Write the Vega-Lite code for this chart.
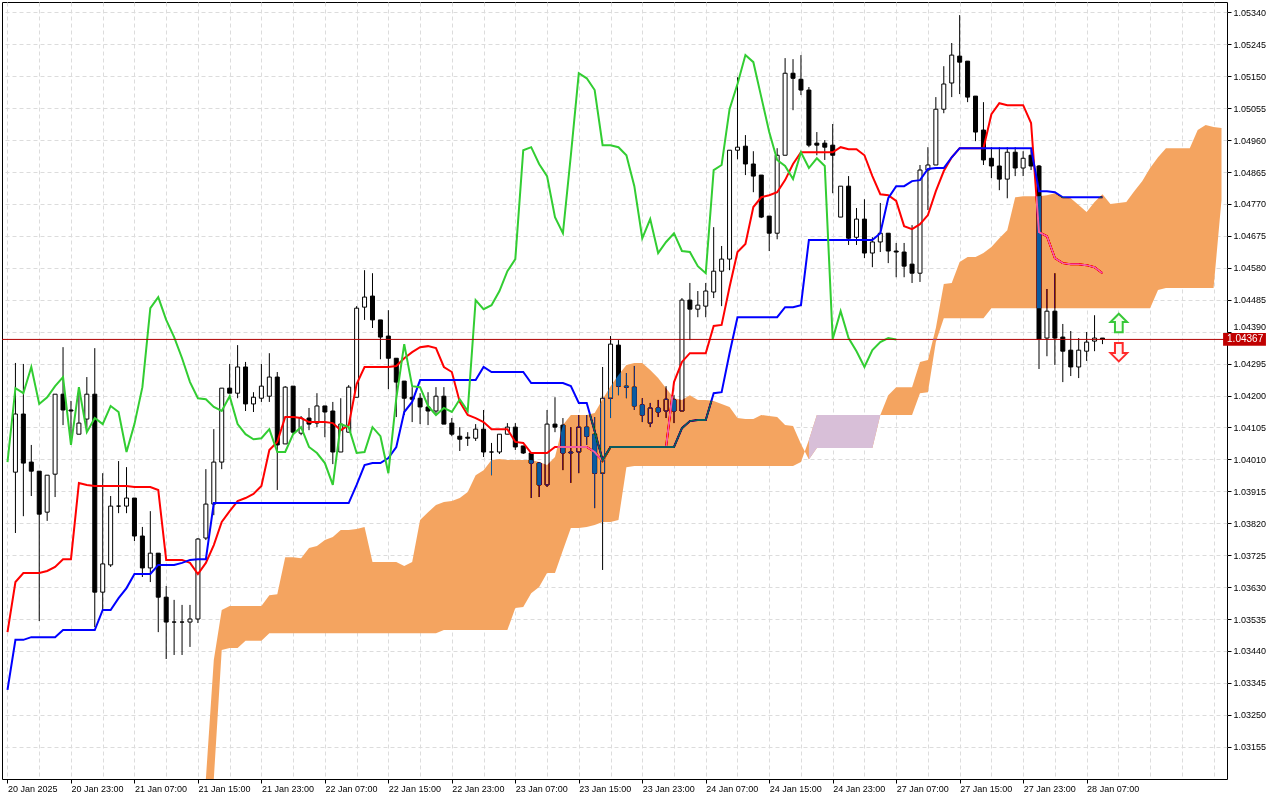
{
"$schema":"https://vega.github.io/schema/vega-lite/v6.json",
"width":1225,"height":777,
"autosize":{"type":"none"},
"padding":{"left":2,"top":2,"right":53,"bottom":21},
"background":"white",
"view":{"stroke":"black","strokeWidth":1,"fill":"white"},
"config":{"font":"Liberation Sans","axis":{"labelOverlap":false,"labelFlush":false,"labelBound":false,"title":null}},
"datasets":{
"candles":[
{"k":1,"o":1.03972,"h":1.04297,"l":1.03791,"c":1.04145},
{"k":2,"o":1.04145,"h":1.04294,"l":1.03841,"c":1.03999},
{"k":3,"o":1.04002,"h":1.04053,"l":1.03901,"c":1.03975},
{"k":4,"o":1.03975,"h":1.03975,"l":1.03529,"c":1.03847},
{"k":5,"o":1.03853,"h":1.03963,"l":1.03827,"c":1.03963},
{"k":6,"o":1.03966,"h":1.04204,"l":1.03898,"c":1.04204},
{"k":7,"o":1.04204,"h":1.04344,"l":1.04112,"c":1.04157},
{"k":8,"o":1.04157,"h":1.04184,"l":1.04059,"c":1.04154},
{"k":9,"o":1.04085,"h":1.04225,"l":1.04085,"c":1.04118},
{"k":10,"o":1.0413,"h":1.04255,"l":1.04097,"c":1.04204},
{"k":11,"o":1.04204,"h":1.04341,"l":1.03511,"c":1.03615},
{"k":12,"o":1.03615,"h":1.03969,"l":1.03562,"c":1.03699},
{"k":13,"o":1.03696,"h":1.03901,"l":1.0369,"c":1.03871},
{"k":14,"o":1.03871,"h":1.04005,"l":1.0385,"c":1.03871},
{"k":15,"o":1.03871,"h":1.03987,"l":1.0385,"c":1.03895},
{"k":16,"o":1.03895,"h":1.03895,"l":1.03767,"c":1.03782},
{"k":17,"o":1.03782,"h":1.03809,"l":1.0366,"c":1.03687},
{"k":18,"o":1.03687,"h":1.03856,"l":1.03645,"c":1.03731},
{"k":19,"o":1.03731,"h":1.03731,"l":1.03496,"c":1.036},
{"k":20,"o":1.036,"h":1.03633,"l":1.03416,"c":1.03526},
{"k":21,"o":1.03526,"h":1.03592,"l":1.03428,"c":1.03526},
{"k":22,"o":1.03526,"h":1.03577,"l":1.03428,"c":1.03526},
{"k":23,"o":1.03526,"h":1.03577,"l":1.03452,"c":1.03535},
{"k":24,"o":1.03535,"h":1.03776,"l":1.03523,"c":1.03773},
{"k":25,"o":1.03776,"h":1.03981,"l":1.0377,"c":1.03877},
{"k":26,"o":1.03877,"h":1.041,"l":1.03844,"c":1.04002},
{"k":27,"o":1.04002,"h":1.04222,"l":1.03981,"c":1.04222},
{"k":28,"o":1.04222,"h":1.04294,"l":1.04207,"c":1.04207},
{"k":29,"o":1.04207,"h":1.0435,"l":1.04192,"c":1.04285},
{"k":30,"o":1.04285,"h":1.043,"l":1.04154,"c":1.04175},
{"k":31,"o":1.04175,"h":1.0421,"l":1.04151,"c":1.04195},
{"k":32,"o":1.04192,"h":1.04294,"l":1.04181,"c":1.04228},
{"k":33,"o":1.04198,"h":1.04326,"l":1.04181,"c":1.04255},
{"k":34,"o":1.04255,"h":1.0427,"l":1.03919,"c":1.04053},
{"k":35,"o":1.04056,"h":1.04228,"l":1.04056,"c":1.04225},
{"k":36,"o":1.04228,"h":1.04228,"l":1.04082,"c":1.04091},
{"k":37,"o":1.04088,"h":1.04139,"l":1.04082,"c":1.04133},
{"k":38,"o":1.04133,"h":1.04163,"l":1.04097,"c":1.04115},
{"k":39,"o":1.04118,"h":1.04207,"l":1.04106,"c":1.04169},
{"k":40,"o":1.04169,"h":1.04169,"l":1.04076,"c":1.04151},
{"k":41,"o":1.04154,"h":1.04181,"l":1.03996,"c":1.04032},
{"k":42,"o":1.04032,"h":1.04192,"l":1.04032,"c":1.04115},
{"k":43,"o":1.04091,"h":1.04231,"l":1.04091,"c":1.04225},
{"k":44,"o":1.04195,"h":1.04466,"l":1.04195,"c":1.0446},
{"k":45,"o":1.04463,"h":1.04573,"l":1.04425,"c":1.04493},
{"k":46,"o":1.04496,"h":1.04564,"l":1.04401,"c":1.04425},
{"k":47,"o":1.04425,"h":1.04425,"l":1.04308,"c":1.04374},
{"k":48,"o":1.04377,"h":1.04454,"l":1.04219,"c":1.04311},
{"k":49,"o":1.04311,"h":1.04311,"l":1.04136,"c":1.0424},
{"k":50,"o":1.04243,"h":1.04243,"l":1.04142,"c":1.04192},
{"k":51,"o":1.04195,"h":1.04225,"l":1.04121,"c":1.04189},
{"k":52,"o":1.04192,"h":1.04207,"l":1.04115,"c":1.04166},
{"k":53,"o":1.04166,"h":1.0421,"l":1.04112,"c":1.04154},
{"k":54,"o":1.04154,"h":1.04225,"l":1.04142,"c":1.04198},
{"k":55,"o":1.04198,"h":1.04225,"l":1.04115,"c":1.04115},
{"k":56,"o":1.04118,"h":1.04133,"l":1.04079,"c":1.04085},
{"k":57,"o":1.04079,"h":1.04106,"l":1.04035,"c":1.0407},
{"k":58,"o":1.04076,"h":1.04091,"l":1.0405,"c":1.04073},
{"k":59,"o":1.04073,"h":1.04115,"l":1.04065,"c":1.041},
{"k":60,"o":1.041,"h":1.04157,"l":1.04017,"c":1.04032},
{"k":61,"o":1.04032,"h":1.04059,"l":1.03963,"c":1.04032},
{"k":62,"o":1.04032,"h":1.04085,"l":1.04026,"c":1.04085},
{"k":63,"o":1.04085,"h":1.04118,"l":1.04085,"c":1.04106},
{"k":64,"o":1.04106,"h":1.04118,"l":1.04038,"c":1.04047},
{"k":65,"o":1.0405,"h":1.0405,"l":1.04026,"c":1.04029},
{"k":66,"o":1.04029,"h":1.04029,"l":1.03895,"c":1.03999},
{"k":67,"o":1.03999,"h":1.04002,"l":1.03898,"c":1.03934},
{"k":68,"o":1.03934,"h":1.04157,"l":1.03928,"c":1.04115},
{"k":69,"o":1.04115,"h":1.04195,"l":1.04091,"c":1.04106},
{"k":70,"o":1.04112,"h":1.04133,"l":1.03978,"c":1.04029},
{"k":71,"o":1.04029,"h":1.04106,"l":1.0394,"c":1.04032},
{"k":72,"o":1.04032,"h":1.04142,"l":1.03969,"c":1.04106},
{"k":73,"o":1.04106,"h":1.04142,"l":1.04053,"c":1.04079},
{"k":74,"o":1.04085,"h":1.04136,"l":1.03865,"c":1.03969},
{"k":75,"o":1.03969,"h":1.04285,"l":1.03681,"c":1.04192},
{"k":76,"o":1.04192,"h":1.04377,"l":1.04133,"c":1.04353},
{"k":77,"o":1.0435,"h":1.04365,"l":1.04201,"c":1.04228},
{"k":78,"o":1.04228,"h":1.04267,"l":1.04192,"c":1.04225},
{"k":79,"o":1.04225,"h":1.04288,"l":1.04157,"c":1.04169},
{"k":80,"o":1.04172,"h":1.04192,"l":1.04121,"c":1.04142},
{"k":81,"o":1.04118,"h":1.04178,"l":1.04106,"c":1.04163},
{"k":82,"o":1.04163,"h":1.04187,"l":1.04136,"c":1.04151},
{"k":83,"o":1.04154,"h":1.04228,"l":1.04133,"c":1.04189},
{"k":84,"o":1.04187,"h":1.04201,"l":1.04118,"c":1.04154},
{"k":85,"o":1.04154,"h":1.0449,"l":1.04154,"c":1.04484},
{"k":86,"o":1.04484,"h":1.04535,"l":1.04365,"c":1.04457},
{"k":87,"o":1.04457,"h":1.04511,"l":1.04433,"c":1.04469},
{"k":88,"o":1.04466,"h":1.04535,"l":1.04433,"c":1.04511},
{"k":89,"o":1.04508,"h":1.04701,"l":1.0449,"c":1.0457},
{"k":90,"o":1.0457,"h":1.04645,"l":1.04466,"c":1.04606},
{"k":91,"o":1.04606,"h":1.0493,"l":1.04573,"c":1.0493},
{"k":92,"o":1.0493,"h":1.05147,"l":1.04903,"c":1.04939},
{"k":93,"o":1.04942,"h":1.04975,"l":1.04856,"c":1.04889},
{"k":94,"o":1.04889,"h":1.04927,"l":1.04805,"c":1.04853},
{"k":95,"o":1.04856,"h":1.04856,"l":1.04728,"c":1.04731},
{"k":96,"o":1.04734,"h":1.04734,"l":1.0463,"c":1.04683},
{"k":97,"o":1.04683,"h":1.04936,"l":1.04665,"c":1.04915},
{"k":98,"o":1.04915,"h":1.05204,"l":1.04915,"c":1.05159},
{"k":99,"o":1.05159,"h":1.05201,"l":1.05049,"c":1.05144},
{"k":100,"o":1.05141,"h":1.05213,"l":1.05094,"c":1.05109},
{"k":101,"o":1.05109,"h":1.05118,"l":1.04939,"c":1.04945},
{"k":102,"o":1.04951,"h":1.04984,"l":1.04915,"c":1.04945},
{"k":103,"o":1.04951,"h":1.0496,"l":1.04901,"c":1.04939},
{"k":104,"o":1.04945,"h":1.05008,"l":1.04802,"c":1.04915},
{"k":105,"o":1.04731,"h":1.04823,"l":1.04731,"c":1.04823},
{"k":106,"o":1.04823,"h":1.04853,"l":1.04648,"c":1.04668},
{"k":107,"o":1.04671,"h":1.04758,"l":1.04648,"c":1.04725},
{"k":108,"o":1.04725,"h":1.04784,"l":1.04609,"c":1.04624},
{"k":109,"o":1.04624,"h":1.04671,"l":1.04582,"c":1.04657},
{"k":110,"o":1.04657,"h":1.04773,"l":1.04627,"c":1.04683},
{"k":111,"o":1.04683,"h":1.04683,"l":1.04594,"c":1.0463},
{"k":112,"o":1.0463,"h":1.04654,"l":1.04552,"c":1.04627},
{"k":113,"o":1.04627,"h":1.04654,"l":1.04552,"c":1.04585},
{"k":114,"o":1.04591,"h":1.04707,"l":1.04535,"c":1.04564},
{"k":115,"o":1.04564,"h":1.04886,"l":1.04538,"c":1.04871},
{"k":116,"o":1.04871,"h":1.04939,"l":1.04752,"c":1.04886},
{"k":117,"o":1.04886,"h":1.05088,"l":1.04886,"c":1.05052},
{"k":118,"o":1.05052,"h":1.0518,"l":1.0504,"c":1.05127},
{"k":119,"o":1.0513,"h":1.05249,"l":1.05088,"c":1.05213},
{"k":120,"o":1.0521,"h":1.05332,"l":1.05097,"c":1.05192},
{"k":121,"o":1.05195,"h":1.05195,"l":1.05073,"c":1.05088},
{"k":122,"o":1.05091,"h":1.05091,"l":1.04957,"c":1.04984},
{"k":123,"o":1.0499,"h":1.05073,"l":1.04886,"c":1.04901},
{"k":124,"o":1.04906,"h":1.04939,"l":1.04847,"c":1.04883},
{"k":125,"o":1.04883,"h":1.04939,"l":1.04811,"c":1.04844},
{"k":126,"o":1.04844,"h":1.04939,"l":1.04787,"c":1.04924},
{"k":127,"o":1.04924,"h":1.04939,"l":1.04853,"c":1.04877},
{"k":128,"o":1.04877,"h":1.04927,"l":1.04853,"c":1.04906},
{"k":129,"o":1.04915,"h":1.0493,"l":1.04871,"c":1.04883},
{"k":130,"o":1.04883,"h":1.04886,"l":1.04279,"c":1.04368},
{"k":131,"o":1.04371,"h":1.04517,"l":1.04317,"c":1.04451},
{"k":132,"o":1.04451,"h":1.04564,"l":1.04291,"c":1.04371},
{"k":133,"o":1.04374,"h":1.04413,"l":1.0424,"c":1.04332},
{"k":134,"o":1.04335,"h":1.04392,"l":1.04258,"c":1.04285},
{"k":135,"o":1.04285,"h":1.04371,"l":1.04252,"c":1.04335},
{"k":136,"o":1.04332,"h":1.04389,"l":1.04303,"c":1.04359},
{"k":137,"o":1.04362,"h":1.04439,"l":1.04332,"c":1.04371},
{"k":138,"o":1.04371,"h":1.04371,"l":1.04353,"c":1.04367}
],
"lines":[
{"k":0,"t":1.03496,"kj":1.03324,"ch":1.04002},
{"k":1,"t":1.03645,"kj":1.03473,"ch":1.04222},
{"k":2,"t":1.03672,"kj":1.03473,"ch":1.04207},
{"k":3,"t":1.03672,"kj":1.03481,"ch":1.04285},
{"k":4,"t":1.03672,"kj":1.03481,"ch":1.04175},
{"k":5,"t":1.03678,"kj":1.03481,"ch":1.04195},
{"k":6,"t":1.0369,"kj":1.03481,"ch":1.04228},
{"k":7,"t":1.03713,"kj":1.03502,"ch":1.04255},
{"k":8,"t":1.03713,"kj":1.03502,"ch":1.04053},
{"k":9,"t":1.0394,"kj":1.03502,"ch":1.04225},
{"k":10,"t":1.03934,"kj":1.03502,"ch":1.04091},
{"k":11,"t":1.03931,"kj":1.03502,"ch":1.04133},
{"k":12,"t":1.03931,"kj":1.03562,"ch":1.04115},
{"k":13,"t":1.03931,"kj":1.03562,"ch":1.04169},
{"k":14,"t":1.03931,"kj":1.03597,"ch":1.04151},
{"k":15,"t":1.03931,"kj":1.03627,"ch":1.04032},
{"k":16,"t":1.03928,"kj":1.03669,"ch":1.04115},
{"k":17,"t":1.03928,"kj":1.03669,"ch":1.04225},
{"k":18,"t":1.03928,"kj":1.03669,"ch":1.0446},
{"k":19,"t":1.03919,"kj":1.03696,"ch":1.04493},
{"k":20,"t":1.03711,"kj":1.03696,"ch":1.04425},
{"k":21,"t":1.03711,"kj":1.03696,"ch":1.04374},
{"k":22,"t":1.03711,"kj":1.03702,"ch":1.04311},
{"k":23,"t":1.03702,"kj":1.03711,"ch":1.0424},
{"k":24,"t":1.03669,"kj":1.03713,"ch":1.04192},
{"k":25,"t":1.03702,"kj":1.03713,"ch":1.04189},
{"k":26,"t":1.03755,"kj":1.0388,"ch":1.04166},
{"k":27,"t":1.03824,"kj":1.0388,"ch":1.04154},
{"k":28,"t":1.03856,"kj":1.0388,"ch":1.04198},
{"k":29,"t":1.03886,"kj":1.0388,"ch":1.04115},
{"k":30,"t":1.03895,"kj":1.0388,"ch":1.04085},
{"k":31,"t":1.03907,"kj":1.0388,"ch":1.0407},
{"k":32,"t":1.03931,"kj":1.0388,"ch":1.04073},
{"k":33,"t":1.04038,"kj":1.0388,"ch":1.041},
{"k":34,"t":1.04062,"kj":1.0388,"ch":1.04032},
{"k":35,"t":1.04136,"kj":1.0388,"ch":1.04032},
{"k":36,"t":1.04136,"kj":1.0388,"ch":1.04085},
{"k":37,"t":1.04133,"kj":1.0388,"ch":1.04106},
{"k":38,"t":1.04121,"kj":1.0388,"ch":1.04047},
{"k":39,"t":1.04121,"kj":1.0388,"ch":1.04029},
{"k":40,"t":1.04121,"kj":1.0388,"ch":1.03999},
{"k":41,"t":1.04118,"kj":1.0388,"ch":1.03934},
{"k":42,"t":1.04097,"kj":1.0388,"ch":1.04115},
{"k":43,"t":1.04112,"kj":1.0388,"ch":1.04106},
{"k":44,"t":1.04234,"kj":1.03934,"ch":1.04029},
{"k":45,"t":1.04285,"kj":1.03993,"ch":1.04032},
{"k":46,"t":1.04285,"kj":1.03999,"ch":1.04106},
{"k":47,"t":1.04285,"kj":1.03999,"ch":1.04079},
{"k":48,"t":1.04285,"kj":1.04014,"ch":1.03969},
{"k":49,"t":1.04288,"kj":1.04047,"ch":1.04192},
{"k":50,"t":1.04311,"kj":1.04151,"ch":1.04353},
{"k":51,"t":1.04329,"kj":1.04181,"ch":1.04228},
{"k":52,"t":1.04344,"kj":1.04246,"ch":1.04225},
{"k":53,"t":1.04347,"kj":1.04246,"ch":1.04169},
{"k":54,"t":1.04341,"kj":1.04246,"ch":1.04142},
{"k":55,"t":1.04285,"kj":1.04246,"ch":1.04163},
{"k":56,"t":1.0427,"kj":1.04246,"ch":1.04151},
{"k":57,"t":1.04181,"kj":1.04246,"ch":1.04189},
{"k":58,"t":1.04142,"kj":1.04246,"ch":1.04154},
{"k":59,"t":1.04133,"kj":1.04246,"ch":1.04484},
{"k":60,"t":1.04121,"kj":1.04285,"ch":1.04457},
{"k":61,"t":1.041,"kj":1.0427,"ch":1.04469},
{"k":62,"t":1.041,"kj":1.0427,"ch":1.04511},
{"k":63,"t":1.041,"kj":1.0427,"ch":1.0457},
{"k":64,"t":1.04062,"kj":1.0427,"ch":1.04606},
{"k":65,"t":1.04059,"kj":1.0427,"ch":1.0493},
{"k":66,"t":1.04029,"kj":1.04237,"ch":1.04939},
{"k":67,"t":1.04029,"kj":1.04237,"ch":1.04889},
{"k":68,"t":1.04029,"kj":1.04237,"ch":1.04853},
{"k":69,"t":1.04047,"kj":1.04237,"ch":1.04731},
{"k":70,"t":1.04047,"kj":1.04237,"ch":1.04683},
{"k":71,"t":1.04047,"kj":1.04228,"ch":1.04915},
{"k":72,"t":1.04047,"kj":1.04178,"ch":1.05159},
{"k":73,"t":1.04047,"kj":1.04178,"ch":1.05144},
{"k":74,"t":1.04032,"kj":1.04094,"ch":1.05109},
{"k":75,"t":1.04005,"kj":1.04008,"ch":1.04945},
{"k":76,"t":1.04047,"kj":1.04047,"ch":1.04945},
{"k":77,"t":1.04047,"kj":1.04047,"ch":1.04939},
{"k":78,"t":1.04047,"kj":1.04047,"ch":1.04915},
{"k":79,"t":1.04047,"kj":1.04047,"ch":1.04823},
{"k":80,"t":1.04047,"kj":1.04047,"ch":1.04668},
{"k":81,"t":1.04047,"kj":1.04047,"ch":1.04725},
{"k":82,"t":1.04047,"kj":1.04047,"ch":1.04624},
{"k":83,"t":1.04047,"kj":1.04047,"ch":1.04657},
{"k":84,"t":1.0424,"kj":1.04047,"ch":1.04683},
{"k":85,"t":1.043,"kj":1.04103,"ch":1.0463},
{"k":86,"t":1.04326,"kj":1.04124,"ch":1.04627},
{"k":87,"t":1.04326,"kj":1.04127,"ch":1.04585},
{"k":88,"t":1.04326,"kj":1.04127,"ch":1.04564},
{"k":89,"t":1.04407,"kj":1.04207,"ch":1.04871},
{"k":90,"t":1.0441,"kj":1.0421,"ch":1.04886},
{"k":91,"t":1.04523,"kj":1.04326,"ch":1.05052},
{"k":92,"t":1.04627,"kj":1.04433,"ch":1.05127},
{"k":93,"t":1.04651,"kj":1.04433,"ch":1.05213},
{"k":94,"t":1.04761,"kj":1.04433,"ch":1.05192},
{"k":95,"t":1.0479,"kj":1.04433,"ch":1.05088},
{"k":96,"t":1.04796,"kj":1.04433,"ch":1.04984},
{"k":97,"t":1.04805,"kj":1.04433,"ch":1.04901},
{"k":98,"t":1.04841,"kj":1.04463,"ch":1.04883},
{"k":99,"t":1.04889,"kj":1.04463,"ch":1.04844},
{"k":100,"t":1.04924,"kj":1.04469,"ch":1.04924},
{"k":101,"t":1.04924,"kj":1.04663,"ch":1.04877},
{"k":102,"t":1.04924,"kj":1.04663,"ch":1.04906},
{"k":103,"t":1.04924,"kj":1.04663,"ch":1.04883},
{"k":104,"t":1.04924,"kj":1.04663,"ch":1.04368},
{"k":105,"t":1.04939,"kj":1.04663,"ch":1.04451},
{"k":106,"t":1.04933,"kj":1.04663,"ch":1.04371},
{"k":107,"t":1.04933,"kj":1.04663,"ch":1.04332},
{"k":108,"t":1.04915,"kj":1.04663,"ch":1.04285},
{"k":109,"t":1.04853,"kj":1.04663,"ch":1.04335},
{"k":110,"t":1.04799,"kj":1.04683,"ch":1.04359},
{"k":111,"t":1.04796,"kj":1.04787,"ch":1.04371},
{"k":112,"t":1.04779,"kj":1.04823,"ch":1.04367},
{"k":113,"t":1.04704,"kj":1.04823},
{"k":114,"t":1.04695,"kj":1.04838},
{"k":115,"t":1.0471,"kj":1.04841},
{"k":116,"t":1.04737,"kj":1.04874},
{"k":117,"t":1.04808,"kj":1.04877},
{"k":118,"t":1.04868,"kj":1.04877},
{"k":119,"t":1.04909,"kj":1.04909},
{"k":120,"t":1.04936,"kj":1.04936},
{"k":121,"t":1.04936,"kj":1.04936},
{"k":122,"t":1.04936,"kj":1.04936},
{"k":123,"t":1.04936,"kj":1.04936},
{"k":124,"t":1.05037,"kj":1.04936},
{"k":125,"t":1.0507,"kj":1.04936},
{"k":126,"t":1.05064,"kj":1.04936},
{"k":127,"t":1.05064,"kj":1.04936},
{"k":128,"t":1.05064,"kj":1.04936},
{"k":129,"t":1.05011,"kj":1.04936},
{"k":130,"t":1.04686,"kj":1.04808},
{"k":131,"t":1.04674,"kj":1.04808},
{"k":132,"t":1.04609,"kj":1.04805},
{"k":133,"t":1.04594,"kj":1.0479},
{"k":134,"t":1.04591,"kj":1.0479},
{"k":135,"t":1.04591,"kj":1.0479},
{"k":136,"t":1.04588,"kj":1.0479},
{"k":137,"t":1.04582,"kj":1.0479},
{"k":138,"t":1.04564,"kj":1.0479}
],
"cloud":[
{"k":25,"a":1.03026,"b":1.02907},
{"k":26,"a":1.03413,"b":1.03026},
{"k":27,"a":1.03562,"b":1.03443},
{"k":28,"a":1.03574,"b":1.03449},
{"k":29,"a":1.03574,"b":1.03449},
{"k":30,"a":1.03574,"b":1.0347},
{"k":31,"a":1.03574,"b":1.0347},
{"k":32,"a":1.03574,"b":1.0347},
{"k":33,"a":1.03606,"b":1.03493},
{"k":34,"a":1.03609,"b":1.03493},
{"k":35,"a":1.03719,"b":1.03493},
{"k":36,"a":1.03719,"b":1.03493},
{"k":37,"a":1.03716,"b":1.03493},
{"k":38,"a":1.03746,"b":1.03493},
{"k":39,"a":1.03752,"b":1.03493},
{"k":40,"a":1.0377,"b":1.03493},
{"k":41,"a":1.03779,"b":1.03493},
{"k":42,"a":1.038,"b":1.03493},
{"k":43,"a":1.038,"b":1.03493},
{"k":44,"a":1.03803,"b":1.03493},
{"k":45,"a":1.03809,"b":1.03493},
{"k":46,"a":1.03705,"b":1.03493},
{"k":47,"a":1.03705,"b":1.03493},
{"k":48,"a":1.03705,"b":1.03493},
{"k":49,"a":1.03705,"b":1.03493},
{"k":50,"a":1.03693,"b":1.03493},
{"k":51,"a":1.03705,"b":1.03493},
{"k":52,"a":1.0383,"b":1.03493},
{"k":53,"a":1.03853,"b":1.03493},
{"k":54,"a":1.03874,"b":1.03493},
{"k":55,"a":1.03883,"b":1.03502},
{"k":56,"a":1.03886,"b":1.03502},
{"k":57,"a":1.03895,"b":1.03502},
{"k":58,"a":1.03913,"b":1.03502},
{"k":59,"a":1.03963,"b":1.03502},
{"k":60,"a":1.03978,"b":1.03502},
{"k":61,"a":1.04008,"b":1.03502},
{"k":62,"a":1.04011,"b":1.03502},
{"k":63,"a":1.04008,"b":1.03502},
{"k":64,"a":1.04008,"b":1.03568},
{"k":65,"a":1.04008,"b":1.03571},
{"k":66,"a":1.04008,"b":1.03612},
{"k":67,"a":1.04002,"b":1.0363},
{"k":68,"a":1.03993,"b":1.03672},
{"k":69,"a":1.04017,"b":1.03672},
{"k":70,"a":1.04112,"b":1.0374},
{"k":71,"a":1.04142,"b":1.03806},
{"k":72,"a":1.04142,"b":1.03806},
{"k":73,"a":1.04142,"b":1.03809},
{"k":74,"a":1.04148,"b":1.03815},
{"k":75,"a":1.04189,"b":1.03824},
{"k":76,"a":1.04228,"b":1.03824},
{"k":77,"a":1.04261,"b":1.0383},
{"k":78,"a":1.04291,"b":1.03987},
{"k":79,"a":1.04297,"b":1.0399},
{"k":80,"a":1.04297,"b":1.0399},
{"k":81,"a":1.04276,"b":1.0399},
{"k":82,"a":1.04252,"b":1.0399},
{"k":83,"a":1.04222,"b":1.0399},
{"k":84,"a":1.04192,"b":1.0399},
{"k":85,"a":1.04187,"b":1.0399},
{"k":86,"a":1.04201,"b":1.0399},
{"k":87,"a":1.04187,"b":1.0399},
{"k":88,"a":1.04187,"b":1.0399},
{"k":89,"a":1.04184,"b":1.0399},
{"k":90,"a":1.04175,"b":1.0399},
{"k":91,"a":1.04166,"b":1.0399},
{"k":92,"a":1.04133,"b":1.0399},
{"k":93,"a":1.0413,"b":1.0399},
{"k":94,"a":1.0413,"b":1.0399},
{"k":95,"a":1.04142,"b":1.0399},
{"k":96,"a":1.04139,"b":1.0399},
{"k":97,"a":1.04136,"b":1.0399},
{"k":98,"a":1.04112,"b":1.0399},
{"k":99,"a":1.04109,"b":1.0399},
{"k":100,"a":1.04056,"b":1.04002},
{"k":101,"a":1.0401,"b":1.04068},
{"k":102,"a":1.04044,"b":1.04142},
{"k":103,"a":1.04044,"b":1.04142},
{"k":104,"a":1.04044,"b":1.04142},
{"k":105,"a":1.04044,"b":1.04142},
{"k":106,"a":1.04044,"b":1.04142},
{"k":107,"a":1.04044,"b":1.04142},
{"k":108,"a":1.04044,"b":1.04142},
{"k":109,"a":1.04044,"b":1.04142},
{"k":110,"a":1.04142,"b":1.04142},
{"k":111,"a":1.04201,"b":1.04142},
{"k":112,"a":1.04225,"b":1.04142},
{"k":113,"a":1.04225,"b":1.04142},
{"k":114,"a":1.04225,"b":1.04142},
{"k":115,"a":1.043,"b":1.04207},
{"k":116,"a":1.04306,"b":1.0421},
{"k":117,"a":1.04401,"b":1.04359},
{"k":118,"a":1.04532,"b":1.0443},
{"k":119,"a":1.04535,"b":1.0443},
{"k":120,"a":1.04597,"b":1.0443},
{"k":121,"a":1.04612,"b":1.0443},
{"k":122,"a":1.04612,"b":1.0443},
{"k":123,"a":1.04624,"b":1.0443},
{"k":124,"a":1.04642,"b":1.0446},
{"k":125,"a":1.04668,"b":1.0446},
{"k":126,"a":1.04692,"b":1.0446},
{"k":127,"a":1.0479,"b":1.0446},
{"k":128,"a":1.04793,"b":1.0446},
{"k":129,"a":1.04793,"b":1.0446},
{"k":130,"a":1.04793,"b":1.0446},
{"k":131,"a":1.04796,"b":1.0446},
{"k":132,"a":1.04802,"b":1.0446},
{"k":133,"a":1.0479,"b":1.0446},
{"k":134,"a":1.04787,"b":1.0446},
{"k":135,"a":1.04767,"b":1.0446},
{"k":136,"a":1.04746,"b":1.0446},
{"k":137,"a":1.04776,"b":1.0446},
{"k":138,"a":1.04799,"b":1.0446},
{"k":139,"a":1.0477,"b":1.0446},
{"k":140,"a":1.04773,"b":1.0446},
{"k":141,"a":1.04776,"b":1.0446},
{"k":142,"a":1.04808,"b":1.0446},
{"k":143,"a":1.04838,"b":1.0446},
{"k":144,"a":1.04877,"b":1.0446},
{"k":145,"a":1.04909,"b":1.04514},
{"k":146,"a":1.04936,"b":1.0452},
{"k":147,"a":1.04936,"b":1.0452},
{"k":148,"a":1.04936,"b":1.0452},
{"k":149,"a":1.04936,"b":1.0452},
{"k":150,"a":1.0499,"b":1.0452},
{"k":151,"a":1.05005,"b":1.0452},
{"k":152,"a":1.04999,"b":1.0452},
{"k":153,"a":1.04996,"b":1.04782}
],
"price":[{"p":1.04367}],
"signals":[{"k":140.06,"p":1.04416,"dir":"buy"},{"k":140.06,"p":1.04329,"dir":"sell"}]
},
"layer":[
{"data":{"name":"cloud"},"mark":{"type":"area","color":"white"},
 "encoding":{
  "x":{"field":"k","type":"quantitative","scale":{"type":"linear","domain":[-0.0625,153.0625],"nice":false,"zero":false},
   "axis":{"title":null,"tickCount":500,"values":[0,4,8,12,16,20,24,28,32,36,40,44,48,52,56,60,64,68,72,76,80,84,88,92,96,100,104,108,112,116,120,124,128,132,136,140,144,148,152],
    "grid":true,"gridColor":"#dcdcdc","gridDash":[4,3],"gridWidth":1,"domain":false,"ticks":true,"tickSize":4,"tickColor":"black",
    "tickOpacity":{"condition":{"test":"datum.value % 8 === 0 && datum.value <= 136","value":1},"value":0},
    "labelExpr":"(datum.value % 8 === 0 && datum.value <= 136) ? ['20 Jan 2025','20 Jan 23:00','21 Jan 07:00','21 Jan 15:00','21 Jan 23:00','22 Jan 07:00','22 Jan 15:00','22 Jan 23:00','23 Jan 07:00','23 Jan 15:00','23 Jan 23:00','24 Jan 07:00','24 Jan 15:00','24 Jan 23:00','27 Jan 07:00','27 Jan 15:00','27 Jan 23:00','28 Jan 07:00'][datum.value/8] : ''",
    "labelAlign":"left","labelBaseline":"top","labelPadding":1,"labelFont":"Liberation Sans","labelFontSize":9,"labelColor":"black","labelOverlap":false,"labelFlush":false,"labelBound":false}},
  "y":{"field":"a","type":"quantitative","scale":{"domain":[1.03059,1.05371],"nice":false,"zero":false,"clamp":true},
   "axis":{"title":null,"orient":"right","tickCount":500,"values":[1.03155,1.0325,1.03345,1.0344,1.03535,1.0363,1.03725,1.0382,1.03915,1.0401,1.04105,1.042,1.04295,1.0439,1.04485,1.0458,1.04675,1.0477,1.04865,1.0496,1.05055,1.0515,1.05245,1.0534],
    "format":".5f","grid":true,"gridColor":"#dcdcdc","gridDash":[4,3],"gridWidth":1,"domain":false,"ticks":true,"tickSize":4,"tickColor":"black",
    "labelOffset":{"condition":{"test":"datum.value > 1.04385 && datum.value < 1.04395","value":-5},"value":0},
    "labelPadding":2,"labelAlign":"left","labelBaseline":"middle","labelFont":"Liberation Sans","labelFontSize":9,"labelColor":"black","labelOverlap":false,"labelFlush":false,"labelBound":false}},
  "y2":{"field":"b"}}},
{"data":{"name":"candles"},"mark":{"type":"rule","color":"black","strokeWidth":1},
 "encoding":{
  "x":{"field":"k","type":"quantitative"},
  "y":{"field":"l","type":"quantitative"},
  "y2":{"field":"h"}}},
{"data":{"name":"candles"},"mark":{"type":"bar","size":4,"stroke":"black","strokeWidth":1},
 "encoding":{
  "x":{"field":"k","type":"quantitative"},
  "y":{"field":"o","type":"quantitative"},
  "y2":{"field":"c"},
  "fill":{"condition":{"test":"datum.c >= datum.o","value":"white"},"value":"black"}}},
{"data":{"name":"lines"},"mark":{"type":"line","color":"#ff0000","strokeWidth":2},
 "encoding":{
  "x":{"field":"k","type":"quantitative"},
  "y":{"field":"t","type":"quantitative"}}},
{"data":{"name":"lines"},"mark":{"type":"line","color":"#0000ff","strokeWidth":2},
 "encoding":{
  "x":{"field":"k","type":"quantitative"},
  "y":{"field":"kj","type":"quantitative"}}},
{"data":{"name":"lines"},"mark":{"type":"line","color":"#32cd32","strokeWidth":2},
 "encoding":{
  "x":{"field":"k","type":"quantitative"},
  "y":{"field":"ch","type":"quantitative"}}},
{"data":{"name":"price"},"mark":{"type":"rule","color":"#b00000","strokeWidth":1},
 "encoding":{
  "y":{"field":"p","type":"quantitative"}}},
{"data":{"name":"cloud"},"mark":{"type":"area","color":"#0b5b9f","blend":"difference"},
 "encoding":{
  "x":{"field":"k","type":"quantitative"},
  "y":{"field":"a","type":"quantitative"},
  "y2":{"field":"b"}}},
{"data":{"name":"cloud"},"transform":[{"filter":"datum.b >= datum.a"}],"mark":{"type":"area","color":"#d8bfd8"},
 "encoding":{
  "x":{"field":"k","type":"quantitative"},
  "y":{"field":"a","type":"quantitative"},
  "y2":{"field":"b"}}},
{"data":{"name":"signals"},"transform":[{"filter":"datum.dir === 'buy'"}],
 "mark":{"type":"point","shape":"M0,-1L0.9,-0.1L0.42,-0.1L0.42,1L-0.42,1L-0.42,-0.1L-0.9,-0.1Z","size":340,"filled":false,"fill":"#f4fff0","fillOpacity":1,"stroke":"#38c838","strokeWidth":2,"opacity":1},
 "encoding":{
  "x":{"field":"k","type":"quantitative"},
  "y":{"field":"p","type":"quantitative"}}},
{"data":{"name":"signals"},"transform":[{"filter":"datum.dir === 'sell'"}],
 "mark":{"type":"point","shape":"M0,1L0.9,0.1L0.42,0.1L0.42,-1L-0.42,-1L-0.42,0.1L-0.9,0.1Z","size":340,"filled":false,"fill":"#fff4f4","fillOpacity":1,"stroke":"#ff2a2a","strokeWidth":2,"opacity":1},
 "encoding":{
  "x":{"field":"k","type":"quantitative"},
  "y":{"field":"p","type":"quantitative"}}},
{"data":{"name":"price"},"mark":{"type":"rect","color":"#c00000"},
 "encoding":{
  "x":{"datum":153.2,"type":"quantitative"},
  "x2":{"datum":158.6},
  "y":{"datum":1.04386,"type":"quantitative"},
  "y2":{"datum":1.04348}}},
{"data":{"name":"price"},"mark":{"type":"text","color":"white","font":"Liberation Sans","fontSize":10,"align":"left","baseline":"middle"},
 "encoding":{
  "x":{"datum":153.7,"type":"quantitative"},
  "y":{"field":"p","type":"quantitative"},
  "text":{"field":"p","type":"quantitative","format":".5f"}}}
]
}
